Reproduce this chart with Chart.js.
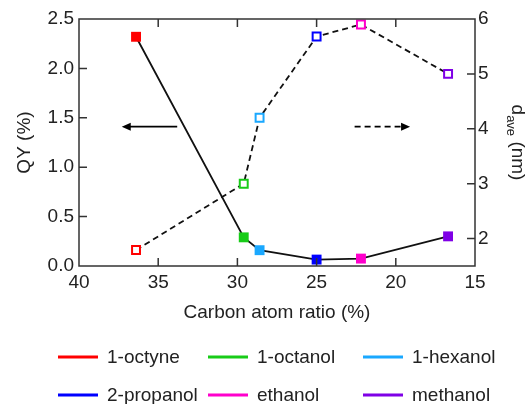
<!DOCTYPE html>
<html>
<head>
<meta charset="utf-8">
<script src="https://cdn.jsdelivr.net/npm/chart.js@4"></script>
<style>
  body { margin: 0; background: #fff; }
  #box { width: 527px; height: 404px; }
</style>
</head>
<body>
<div id="box"><canvas id="grafica"></canvas></div>
<script>
// values
const solvents = ['1-octyne', '1-octanol', '1-hexanol', '2-propanol', 'ethanol', 'methanol'];
const carbonRatio = [36.4, 29.6, 28.6, 25.0, 22.2, 16.7];
const qyValues = [2.32, 0.29, 0.16, 0.065, 0.075, 0.30];
const dAveValues = [1.79, 3.0, 4.2, 5.68, 5.9, 5.0];
const solventColors = ['#ff0000', '#18cc18', '#1aa8ff', '#0000ff', '#ff00cc', '#7f00e6'];

const xTicks = [40, 35, 30, 25, 20, 15];
const qyTicks = [0, 0.5, 1.0, 1.5, 2.0, 2.5];
const dTicks = [2, 3, 4, 5, 6];

const FONT = 'Liberation Sans, Arial, sans-serif';
const INK = '#222';

function puntos(xs, ys) {
    return xs.map((x, i) => ({ x: x, y: ys[i] }));
}

function fijarTicks(valores) {
    return function (scale) {
        scale.ticks = valores.map(v => ({ value: v }));
    };
}

// frame, inward tick marks, arrows, right title, legend
const extras = {
    id: 'extras',
    afterDraw(chart) {
        const ctx = chart.ctx;
        const a = chart.chartArea;
        const sx = chart.scales.x, sy = chart.scales.y, sy1 = chart.scales.y1;
        ctx.save();

        // frame
        ctx.strokeStyle = '#333';
        ctx.lineWidth = 1.5;
        ctx.strokeRect(a.left, a.top, a.right - a.left, a.bottom - a.top);

        // inward ticks
        ctx.beginPath();
        xTicks.slice(1, -1).forEach(v => {
            const px = sx.getPixelForValue(v);
            ctx.moveTo(px, a.bottom); ctx.lineTo(px, a.bottom - 8);
            ctx.moveTo(px, a.top); ctx.lineTo(px, a.top + 8);
        });
        qyTicks.slice(1, -1).forEach(v => {
            const py = sy.getPixelForValue(v);
            ctx.moveTo(a.left, py); ctx.lineTo(a.left + 8, py);
        });
        dTicks.slice(0, -1).forEach(v => {
            const py = sy1.getPixelForValue(v);
            ctx.moveTo(a.right, py); ctx.lineTo(a.right - 8, py);
        });
        ctx.stroke();

        // arrows: QY -> left axis, d_ave -> right axis
        const yArrow = sy.getPixelForValue(1.41);
        flecha(ctx, sx.getPixelForValue(33.8), sx.getPixelForValue(37.3), yArrow, false);
        flecha(ctx, sx.getPixelForValue(22.6), sx.getPixelForValue(19.1), yArrow, true);

        // right axis title d_ave (nm)
        ctx.fillStyle = INK;
        ctx.textBaseline = 'alphabetic';
        const big = '19px ' + FONT, small = '13px ' + FONT;
        ctx.font = big;
        const wD = ctx.measureText('d').width, wNm = ctx.measureText(' (nm)').width;
        ctx.font = small;
        const wAve = ctx.measureText('ave').width;
        const total = wD + wAve + wNm;
        ctx.translate(512, (a.top + a.bottom) / 2);
        ctx.rotate(Math.PI / 2);
        let tx = -total / 2;
        ctx.font = big;
        ctx.fillText('d', tx, 0);
        tx += wD;
        ctx.font = small;
        ctx.fillText('ave', tx, 5);
        tx += wAve;
        ctx.font = big;
        ctx.fillText(' (nm)', tx, 0);
        ctx.setTransform(1, 0, 0, 1, 0, 0);

        // legend, three aligned columns
        const cols = [58, 208, 363];
        const rows = [357, 395];
        ctx.font = '19px ' + FONT;
        ctx.textBaseline = 'middle';
        ctx.textAlign = 'left';
        solvents.forEach((s, i) => {
            const x = cols[i % 3], y = rows[Math.floor(i / 3)];
            ctx.strokeStyle = solventColors[i];
            ctx.lineWidth = 3;
            ctx.beginPath();
            ctx.moveTo(x, y); ctx.lineTo(x + 40, y);
            ctx.stroke();
            ctx.fillStyle = INK;
            ctx.fillText(s, x + 49, y + 1);
        });
        ctx.restore();
    }
};

function flecha(ctx, x0, x1, y, dashed) {
    const dir = Math.sign(x1 - x0);
    ctx.save();
    ctx.strokeStyle = '#000';
    ctx.fillStyle = '#000';
    ctx.lineWidth = 1.8;
    ctx.setLineDash(dashed ? [6, 4] : []);
    ctx.beginPath();
    ctx.moveTo(x0, y); ctx.lineTo(x1 - dir * 6, y);
    ctx.stroke();
    ctx.setLineDash([]);
    ctx.beginPath();
    ctx.moveTo(x1, y);
    ctx.lineTo(x1 - dir * 9, y - 4);
    ctx.lineTo(x1 - dir * 9, y + 4);
    ctx.closePath();
    ctx.fill();
    ctx.restore();
}

const grafica = new Chart(document.getElementById('grafica'), {
    type: 'scatter',
    data: {
        datasets: [
            {
                label: 'QY',
                data: puntos(carbonRatio, qyValues),
                yAxisID: 'y',
                showLine: true,
                borderColor: '#111',
                borderWidth: 1.8,
                pointStyle: 'rect',
                pointRadius: 7,
                pointBorderWidth: 0,
                pointBackgroundColor: solventColors,
                pointBorderColor: solventColors
            },
            {
                label: 'd_ave',
                data: puntos(carbonRatio, dAveValues),
                yAxisID: 'y1',
                showLine: true,
                borderColor: '#111',
                borderWidth: 1.8,
                borderDash: [6, 4],
                pointStyle: 'rect',
                pointRadius: 5.6,
                pointBorderWidth: 2,
                pointBackgroundColor: '#fff',
                pointBorderColor: solventColors
            }
        ]
    },
    options: {
        responsive: true,
        maintainAspectRatio: false,
        animation: false,
        layout: { padding: { top: 19, bottom: 78, left: 0, right: 0 } },
        plugins: { legend: { display: false }, tooltip: { enabled: false } },
        scales: {
            x: {
                type: 'linear',
                reverse: true,
                min: 15, max: 40,
                afterBuildTicks: fijarTicks(xTicks),
                afterFit: s => { s.height = 60; },
                grid: { display: false, drawTicks: false },
                border: { display: false },
                ticks: { color: INK, font: { family: FONT, size: 19 }, padding: 5 },
                title: { display: true, text: 'Carbon atom ratio (%)', color: INK,
                         font: { family: FONT, size: 19 }, padding: { top: 0, bottom: 2 } }
            },
            y: {
                position: 'left',
                min: 0, max: 2.5,
                afterBuildTicks: fijarTicks(qyTicks),
                afterFit: s => { s.width = 79; },
                grid: { display: false, drawTicks: false },
                border: { display: false },
                ticks: { color: INK, font: { family: FONT, size: 19 }, padding: 5,
                         callback: v => v.toFixed(1) },
                title: { display: true, text: 'QY (%)', color: INK,
                         font: { family: FONT, size: 19 }, padding: { top: 13, bottom: 0 } }
            },
            y1: {
                position: 'right',
                min: 1.5, max: 6,
                afterBuildTicks: fijarTicks(dTicks),
                afterFit: s => { s.width = 52; },
                grid: { display: false, drawTicks: false },
                border: { display: false },
                ticks: { color: INK, font: { family: FONT, size: 19 }, padding: 3 }
            }
        }
    },
    plugins: [extras]
});
</script>
</body>
</html>
